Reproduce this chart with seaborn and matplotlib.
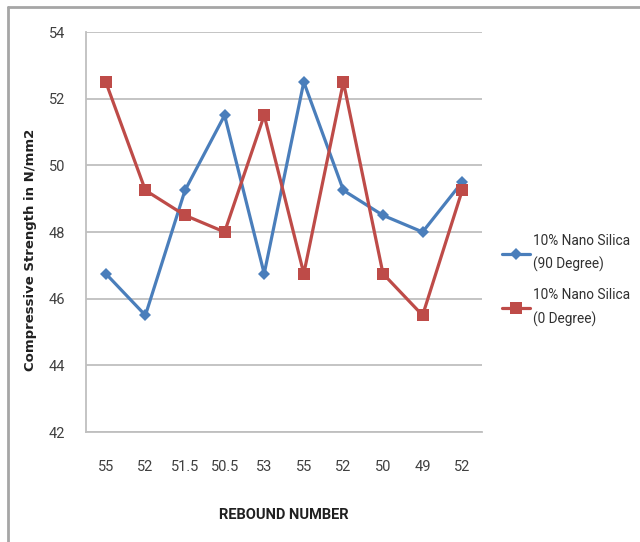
import matplotlib
matplotlib.use('Agg')
import matplotlib.pyplot as plt
from matplotlib.lines import Line2D
import seaborn as sns
import pandas as pd
import numpy as np

# data
rebound = ['55', '52', '51.5', '50.5', '53', '55', '52', '50', '49', '52']
deg90 = [46.75, 45.5, 49.25, 51.5, 46.75, 52.5, 49.25, 48.5, 48.0, 49.5]
deg0 = [52.5, 49.25, 48.5, 48.0, 51.5, 46.75, 52.5, 46.75, 45.5, 49.25]
series = ['10% Nano Silica\n(90 Degree)', '10% Nano Silica\n(0 Degree)']

BLUE = '#4A7EBB'
RED = '#BE4B48'
GRID = '#BFBFBF'

sns.set_style('white')
plt.rcParams['font.family'] = ['Roboto', 'DejaVu Sans']

pos = np.arange(len(rebound))
df = pd.DataFrame({
    'pos': np.concatenate([pos, pos]),
    'val': deg90 + deg0,
    'series': [series[0]] * len(pos) + [series[1]] * len(pos),
})

fig = plt.figure(figsize=(6.4, 5.42), dpi=100)
ax = fig.add_axes([86 / 640, 1 - 432 / 542, 396 / 640, 400 / 542])

sns.lineplot(data=df, x='pos', y='val', hue='series', style='series',
             palette={series[0]: BLUE, series[1]: RED},
             markers={series[0]: 'D', series[1]: 's'}, dashes=False,
             markersize=8, markeredgewidth=0, linewidth=2.3, ax=ax,
             legend=False, sort=False)
for ln in ax.lines:
    if ln.get_marker() == 'D':
        ln.set_markersize(6.5)

ax.set_xlim(-0.5, len(rebound) - 0.5)
ax.set_ylim(42, 54)
ax.set_yticks(np.arange(42, 55, 2))
ax.set_xticks(pos)
ax.set_xticklabels(rebound)
ax.set_xticks(np.arange(-0.5, len(rebound)), minor=True)
ax.tick_params(axis='x', which='major', length=0, pad=20, labelsize=10.5,
               labelcolor='#404040')
ax.tick_params(axis='x', which='minor', length=5, color=GRID, width=1.3,
               direction='out')
ax.tick_params(axis='y', length=5, color=GRID, width=1.3, direction='out',
               pad=10, labelsize=10.5, labelcolor='#404040')
ax.yaxis.grid(True, color=GRID, linewidth=1.3)
ax.set_axisbelow(True)
for s in ['top', 'right']:
    ax.spines[s].set_visible(False)
for s in ['left', 'bottom']:
    ax.spines[s].set_color(GRID)
    ax.spines[s].set_linewidth(1.3)

ax.set_xlabel('REBOUND NUMBER', fontsize=10.5, fontweight='bold',
              color='#202020')
ax.xaxis.set_label_coords(0.5, -76 / 400, transform=ax.transAxes)
ax.set_ylabel('Compressive Strength in N/mm2', fontsize=9.5,
              fontweight='bold', color='#202020', family=['DejaVu Sans'])
ax.yaxis.set_label_coords(-49 / 396, 182 / 400, transform=ax.transAxes)

handles = [Line2D([], [], color=BLUE, marker='D', markersize=6.5, lw=2.3,
                  markeredgewidth=0),
           Line2D([], [], color=RED, marker='s', markersize=8, lw=2.3,
                  markeredgewidth=0)]
leg = fig.legend(handles, series, loc='center left',
                 bbox_to_anchor=(0.765, 0.483), frameon=False, fontsize=9.8,
                 handlelength=2.1, handletextpad=0.2, labelspacing=1.2,
                 labelcolor='#303030')
for t in leg.get_texts():
    t.set_linespacing(1.75)

# outer chart frame (top and left edges visible)
fig.add_artist(Line2D([8 / 640, 1], [1 - 7 / 542] * 2,
                      transform=fig.transFigure, color='#A6A6A6', lw=2))
fig.add_artist(Line2D([8 / 640] * 2, [0, 1 - 7 / 542],
                      transform=fig.transFigure, color='#A6A6A6', lw=2))

fig.savefig('out.png', dpi=100)
